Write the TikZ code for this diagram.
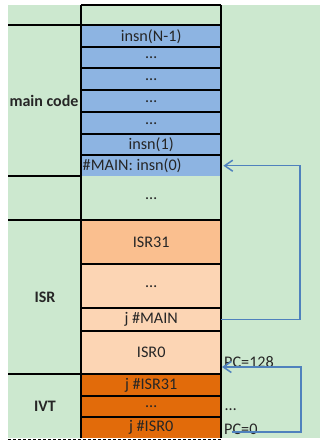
\documentclass[tikz,border=0pt]{standalone}
\usepackage{fontspec}
\setmainfont{Carlito}
\usetikzlibrary{arrows.meta}
\definecolor{bggreen}{HTML}{CCE8CF}
\definecolor{codeblue}{HTML}{8DB4E2}
\definecolor{isrlight}{HTML}{FCD5B4}
\definecolor{isrmid}{HTML}{FABF8F}
\definecolor{ivtdark}{HTML}{E26B0A}
\definecolor{arrowblue}{HTML}{4F81BD}
\begin{document}
\begin{tikzpicture}[x=1pt,y=-1pt,
  font=\fontsize{16.2}{19}\selectfont,
  cell/.style={rectangle,inner sep=0pt,minimum width=140pt,anchor=north west,text=black!85},
  region/.style={font=\fontsize{16}{19}\selectfont\bfseries,text=black!85},
  grid/.style={line width=2pt,black},
  jump/.style={arrowblue,line width=1.5pt,-{Straight Barb[length=8pt,width=11pt,line width=1.5pt]}},
  side/.style={anchor=west,inner sep=0pt,text=black!85}]
\useasboundingbox (0,0) rectangle (320,441);
% sheet background
\fill[bggreen] (8,5) rectangle (320,438);
% memory cells, top to bottom
\node[cell,minimum height=20pt] (top) at (81,5) {};
\node[cell,fill=codeblue,minimum height=22pt] (n1) at (81,25) {insn(N-1)};
\node[cell,fill=codeblue,minimum height=21pt] (d1) at (81,47) {…};
\node[cell,fill=codeblue,minimum height=22pt] (d2) at (81,68) {…};
\node[cell,fill=codeblue,minimum height=22pt] (d3) at (81,90) {…};
\node[cell,fill=codeblue,minimum height=22pt] (d4) at (81,112) {…};
\node[cell,fill=codeblue,minimum height=21pt] (i1) at (81,134) {insn(1)};
\node[cell,fill=codeblue,minimum height=21pt] (i0) at (81,155) {};
\node[anchor=west,inner sep=0pt,text=black!85] (i0t) at ([xshift=1.5pt]i0.west) {\#MAIN: insn(0)};
\node[cell,minimum height=44pt] (gap) at (81,176) {…};
\node[cell,fill=isrmid,minimum height=44pt] (isr31) at (81,220) {ISR31};
\node[cell,fill=isrlight,minimum height=44pt] (isrd) at (81,264) {…};
\node[cell,fill=isrlight,minimum height=23pt] (jmain) at (81,308) {j \#MAIN};
\node[cell,fill=isrlight,minimum height=43pt] (isr0) at (81,331) {ISR0};
\node[cell,fill=ivtdark,minimum height=22pt] (jisr31) at (81,374) {j \#ISR31};
\node[cell,fill=ivtdark,minimum height=21pt] (ivtd) at (81,396) {…};
\node[cell,fill=ivtdark,minimum height=21pt] (jisr0) at (81,417) {j \#ISR0};
% region labels
\node[region] (lmain) at (44,101) {main code};
\node[region] (lisr) at (45,297) {ISR};
\node[region] (livt) at (45,406) {IVT};
% cell borders
\draw[grid] (top.north west) -- (top.north east);
\foreach \c in {n1,d1,d2,d3,d4,i1,i0,isr31,isrd,jmain,isr0,jisr31,ivtd,jisr0}
  \draw[grid] (\c.north west) -- (\c.north east);
\draw[grid] (top.north west) -- (jisr0.south west);
\draw[grid] (top.north east) -- (jisr0.south east);
% region separators
\foreach \c in {n1,gap,isr31,jisr31}
  \draw[grid] (\c.north west) -- ++(-73,0);
\draw[black,line width=0.8pt,dash pattern=on 3pt off 2pt] (8,439.5) -- (222,439.5);
% program counter notes
\node[side] (pc128) at (224,362) {PC=128};
\node[side] (pcd) at (225,410) {…};
\node[side] (pc0) at (224,429) {PC=0};
% jumps
\coordinate (src0) at (232,432);
\coordinate (dst0) at (222,367);
\draw[jump] (jmain.east) -- (300,0 |- jmain.east) |- ([xshift=2pt]i0.east);
\draw[jump] (src0) -- (301,432) |- (dst0);
\end{tikzpicture}
\end{document}
